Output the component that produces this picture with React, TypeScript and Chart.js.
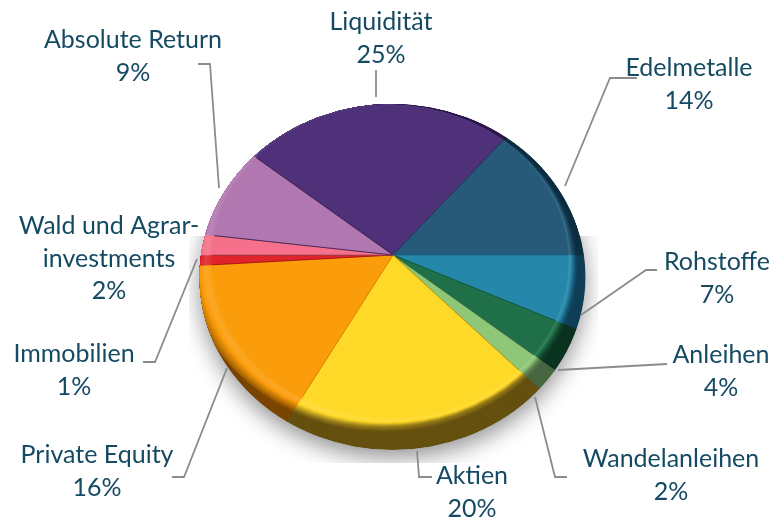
import React, { useEffect, useRef } from "react";
import { Chart, registerables } from "chart.js";

Chart.register(...registerables);

const categories = ["Liquidität", "Edelmetalle", "Rohstoffe", "Anleihen", "Wandelanleihen", "Aktien", "Private Equity", "Immobilien", "Wald und Agrarinvestments", "Absolute Return"];
const values = [25, 14, 7, 4, 2, 20, 16, 1, 2, 9];
const faceColors = ["#4E3179", "#265A78", "#2587A9", "#1F7049", "#8FC778", "#FFD928", "#FB9D0B", "#E0242C", "#F5708A", "#B177B0"];
const sideColors = ["#2E1A4A", "#0E2F42", "#0F3F58", "#0A3320", "#486640", "#65500F", "#7A4500", "#7A1015", "#8A3A4A", "#6A4070"];
const lineColors = ["#2A1548", "#1A4058", "#1A6A8A", "#155535", "#4A7040", "#C09A10", "#D98000", "#A01015", "#A05060", "#3A2050"];
const labelLines = [["Liquidität"], ["Edelmetalle"], ["Rohstoffe"], ["Anleihen"], ["Wandelanleihen"], ["Aktien"], ["Private Equity"], ["Immobilien"], ["Wald und Agrar-", "investments"], ["Absolute Return"]];
const labelCenters = [381, 689, 717, 721, 671, 472, 97, 74, 109, 133];
const labelBaselines = [30, 76, 270, 363, 467, 484, 463, 362, 234, 48];
const leaders = [
  [[376, 70], [376, 97]],
  [[637, 78], [610, 78], [565, 186]],
  [[657, 270], [646, 270], [581, 315]],
  [[667, 364], [558, 370]],
  [[567, 477], [555, 477], [535, 397]],
  [[432, 477], [419, 477], [417, 451]],
  [[172, 477], [184, 477], [227, 368]],
  [[143, 362], [155, 362], [197, 259]],
  [[198, 64], [210, 64], [219, 188]],
];

type E = [number, number, number, number];
const SIL: E = [392.5, 277, 193, 173];
const BEV: E = [382.5, 265.5, 192.5, 161.5];
const FACE: E = [390, 261.5, 178, 156.5];

const rgb = (h: string) => [1, 3, 5].map((i) => parseInt(h.slice(i, i + 2), 16));
const mix = (a: number[], b: number[], t: number) => a.map((v, i) => v + (b[i] - v) * t);
const css = (c: number[]) => `rgb(${c.map((v) => Math.round(v)).join(",")})`;
const lerpE = (a: E, b: E, t: number) => a.map((v, i) => v + (b[i] - v) * t) as E;

const piePlugin = {
  id: "tiltedPie",
  beforeDatasetsDraw(chart: any) {
    const ctx: CanvasRenderingContext2D = chart.ctx;
    const arcs = chart.getDatasetMeta(0).data;
    const path = (e: E) => {
      ctx.beginPath();
      ctx.ellipse(e[0], e[1], e[2], e[3], 0, 0, Math.PI * 2);
    };
    ctx.save();
    ctx.beginPath();
    ctx.rect(189, 236, 409, 227);
    ctx.clip();
    ctx.shadowColor = "rgba(0,0,0,0.42)";
    ctx.shadowBlur = 22;
    ctx.shadowOffsetY = 8;
    ctx.fillStyle = "#999";
    path(SIL);
    ctx.fill();
    ctx.restore();

    const pass = (e: E, colorOf: (i: number) => string, final: boolean) => {
      ctx.save();
      path(SIL);
      ctx.clip();
      path(e);
      ctx.clip();
      ctx.translate(393, 255);
      ctx.scale(1, 0.86);
      ctx.translate(-arcs[0].x, -arcs[0].y);
      arcs.forEach((arc: any, i: number) => {
        const saved = arc.options;
        const c = colorOf(i);
        arc.options = { ...saved, backgroundColor: c, borderColor: final ? lineColors[i] : c, borderWidth: final ? 0.9 : 0.6 };
        arc.draw(ctx);
        arc.options = saved;
      });
      ctx.restore();
    };

    const shade = (i: number, t: number) => {
      const f = rgb(faceColors[i]);
      const s = rgb(sideColors[i]);
      const hi = mix(f, [255, 255, 255], 0.12);
      if (t < 0.75) return css(s);
      if (t < 1.45) return css(mix(s, f, (t - 0.75) / 0.7));
      if (t < 1.7) return css(mix(f, hi, (t - 1.45) / 0.25));
      return css(mix(hi, f, (t - 1.7) / 0.3));
    };
    const steps = 30;
    for (let k = 0; k <= steps; k++) {
      const t = (k / steps) * 2;
      const e = t < 1 ? lerpE(SIL, BEV, t) : lerpE(BEV, FACE, t - 1);
      pass(e, (i) => shade(i, t), false);
    }
    pass(FACE, (i) => faceColors[i], true);
    return false;
  },
  afterDraw(chart: any) {
    const ctx: CanvasRenderingContext2D = chart.ctx;
    ctx.save();
    ctx.strokeStyle = "#8C8C8C";
    ctx.lineWidth = 1.8;
    leaders.forEach((pts) => {
      ctx.beginPath();
      pts.forEach((p, i) => (i ? ctx.lineTo(p[0], p[1]) : ctx.moveTo(p[0], p[1])));
      ctx.stroke();
    });
    ctx.fillStyle = "#154A63";
    ctx.font = "25px Lato";
    ctx.textAlign = "center";
    ctx.textBaseline = "alphabetic";
    categories.forEach((_, i) => {
      const lines = [...labelLines[i], values[i] + "%"];
      lines.forEach((s, j) => ctx.fillText(s, labelCenters[i], labelBaselines[i] + j * 32.5));
    });
    ctx.restore();
  },
};

export default function App() {
  const ref = useRef<HTMLCanvasElement>(null);
  useEffect(() => {
    const chart = new Chart(ref.current!, {
      type: "pie",
      data: { labels: categories, datasets: [{ data: values, backgroundColor: faceColors, borderColor: lineColors, borderWidth: 1 }] },
      options: {
        responsive: false,
        animation: false,
        rotation: -50.4,
        plugins: { legend: { display: false }, tooltip: { enabled: false } },
      },
      plugins: [piePlugin],
    } as any);
    return () => chart.destroy();
  }, []);
  return (
    <div style={{ position: "fixed", left: 0, top: 0, width: 774, height: 518, background: "#fff" }}>
      <canvas ref={ref} width={774} height={518} style={{ display: "block" }} />
    </div>
  );
}
